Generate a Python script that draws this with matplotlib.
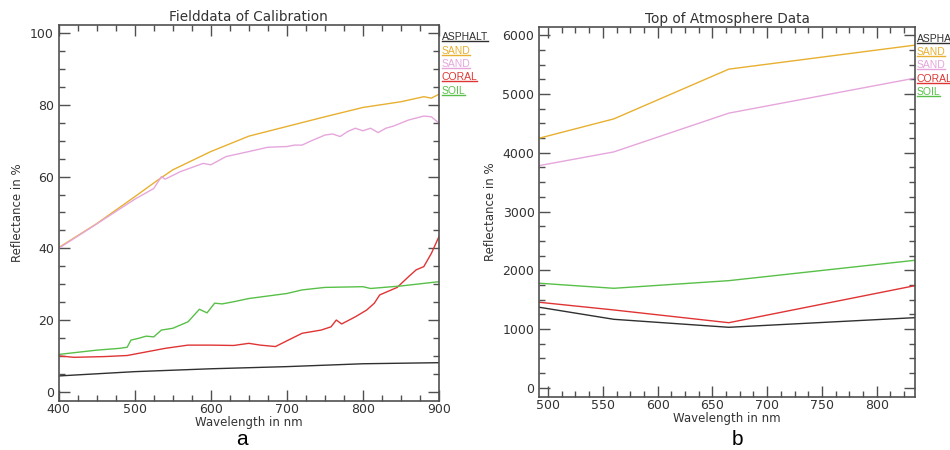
import matplotlib
matplotlib.use("Agg")
import matplotlib.pyplot as plt
from matplotlib.ticker import MultipleLocator
from matplotlib.lines import Line2D

# === data: field spectra (panel a) ===
asphalt_a_x = [400, 500, 600, 700, 800, 900]
asphalt_a_y = [4.4, 5.6, 6.4, 7.0, 7.8, 8.1]

sand1_a_x = [400, 450, 500, 530, 550, 600, 650, 700, 750, 800, 850, 880, 890, 900]
sand1_a_y = [40.2, 46.9, 54.4, 59.0, 61.9, 67.0, 71.3, 74.0, 76.7, 79.3, 80.9, 82.3, 81.9, 83.0]

sand2_a_x = [400, 450, 500, 525, 535, 540, 560, 590, 600, 620, 650, 675, 700, 710, 720, 730,
             750, 760, 770, 780, 790, 800, 810, 820, 830, 840, 860, 880, 890, 900]
sand2_a_y = [40.0, 46.8, 53.7, 56.7, 60.0, 59.3, 61.4, 63.7, 63.3, 65.6, 67.0, 68.2, 68.4, 68.8, 68.8, 69.8,
             71.6, 71.9, 71.2, 72.6, 73.5, 72.8, 73.5, 72.3, 73.5, 74.1, 75.8, 76.9, 76.7, 74.9]

coral_a_x = [400, 420, 460, 490, 510, 540, 570, 600, 630, 650, 665, 685, 700, 720, 745, 758,
             765, 772, 790, 805, 815, 822, 845, 860, 870, 880, 890, 900]
coral_a_y = [10.0, 9.6, 9.8, 10.1, 10.9, 12.1, 13.0, 13.0, 12.9, 13.5, 13.0, 12.6, 14.2, 16.3, 17.2, 18.1,
             20.0, 18.9, 20.9, 22.8, 24.7, 27.0, 29.1, 32.1, 34.0, 34.9, 38.6, 43.3]

soil_a_x = [400, 450, 480, 490, 495, 505, 515, 525, 535, 550, 570, 585, 595, 605, 615, 630,
            650, 700, 720, 750, 800, 810, 850, 900]
soil_a_y = [10.4, 11.6, 12.1, 12.4, 14.4, 14.9, 15.5, 15.3, 17.2, 17.7, 19.5, 23.0, 22.0, 24.7, 24.5, 25.1,
            26.0, 27.4, 28.4, 29.1, 29.3, 28.8, 29.5, 30.7]

# === data: top of atmosphere (panel b) ===
bands_b = [492, 560, 665, 835]
asphalt_b = [1370, 1165, 1029, 1193]
sand1_b = [4249, 4577, 5424, 5833]
sand2_b = [3782, 4015, 4675, 5271]
coral_b = [1455, 1324, 1107, 1738]
soil_b = [1779, 1693, 1823, 2170]

labels = ["ASPHALT", "SAND", "SAND", "CORAL", "SOIL"]
colors = ["#303030", "#e8b030", "#e6a6dc", "#e03434", "#58c048"]

FONT = "DejaVu Sans"
FRAME = "#505050"

fig = plt.figure(figsize=(9.5, 4.5), dpi=100)
fig.patch.set_facecolor("white")

ax1 = fig.add_axes([0.0618, 0.1096, 0.4003, 0.8348])
ax2 = fig.add_axes([0.5677, 0.1184, 0.3955, 0.8209])

series_a = [(asphalt_a_x, asphalt_a_y), (sand1_a_x, sand1_a_y), (sand2_a_x, sand2_a_y),
            (coral_a_x, coral_a_y), (soil_a_x, soil_a_y)]
for (xs, ys), c in zip(series_a, colors):
    ax1.plot(xs, ys, color=c, lw=1.0)

for ys, c in zip([asphalt_b, sand1_b, sand2_b, coral_b, soil_b], colors):
    ax2.plot(bands_b, ys, color=c, lw=1.0)

ax1.set_xlim(400, 900)
ax1.set_ylim(-2.5, 102.3)
ax1.xaxis.set_major_locator(MultipleLocator(100))
ax1.xaxis.set_minor_locator(MultipleLocator(25))
ax1.yaxis.set_major_locator(MultipleLocator(20))
ax1.yaxis.set_minor_locator(MultipleLocator(5))

ax2.set_xlim(492, 835)
ax2.set_ylim(-153, 6136)
ax2.xaxis.set_major_locator(MultipleLocator(50))
ax2.xaxis.set_minor_locator(MultipleLocator(12.5))
ax2.yaxis.set_major_locator(MultipleLocator(1000))
ax2.yaxis.set_minor_locator(MultipleLocator(250))

for ax, title in [(ax1, "Fielddata of Calibration"), (ax2, "Top of Atmosphere Data")]:
    for sp in ax.spines.values():
        sp.set_color(FRAME)
        sp.set_linewidth(1.2)
    ax.tick_params(which="both", direction="in", top=True, right=True, colors=FRAME,
                   labelcolor="#333333", labelsize=9, width=1.0)
    ax.tick_params(which="major", length=8)
    ax.tick_params(which="minor", length=4)
    ax.tick_params(axis="x", pad=2)
    for t in ax.get_xticklabels() + ax.get_yticklabels():
        t.set_family(FONT)
    ax.set_title(title, fontsize=9.8, family=FONT, color="#333333", pad=3)
    ax.set_xlabel("Wavelength in nm", fontsize=8.5, family=FONT, color="#333333", labelpad=0)
    ax.set_ylabel("Reflectance in %", fontsize=8.5, family=FONT, color="#333333", labelpad=4)

# legend text at the right edge of each panel, underlined
# (the right panel's legend runs off the figure edge, as in the original)
legend_rows_a = [37, 51, 64, 77, 91]
legend_rows_b = [39, 52, 65, 79, 92]
texts = []
for x0, rows in [(441.7, legend_rows_a), (916.7, legend_rows_b)]:
    for lab, c, yp in zip(labels, colors, rows):
        t = fig.text(x0 / 950, 1 - yp / 450, lab, color=c, fontsize=7.5,
                     family="Liberation Sans", va="center", ha="left")
        texts.append(t)

fig.canvas.draw()
renderer = fig.canvas.get_renderer()
for t in texts:
    bb = t.get_window_extent(renderer).transformed(fig.transFigure.inverted())
    fig.add_artist(Line2D([bb.x0, bb.x1], [bb.y0 + 0.002, bb.y0 + 0.002],
                          transform=fig.transFigure, color=t.get_color(), lw=1.0))

fig.text(242 / 950, 1 - 445 / 450, "a", fontsize=15, family="Liberation Sans",
         ha="center", va="baseline", color="black")
fig.text(737 / 950, 1 - 445 / 450, "b", fontsize=15, family="Liberation Sans",
         ha="center", va="baseline", color="black")

fig.savefig("out.png", dpi=100)
